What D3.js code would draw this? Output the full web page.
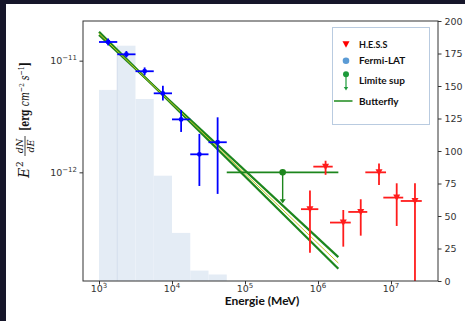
<!DOCTYPE html>
<html><head><meta charset="utf-8">
<script src="https://cdn.jsdelivr.net/npm/d3@7"></script>
<style>html,body{margin:0;padding:0;background:#16162a;}svg{display:block}</style>
</head><body>
<svg id="c" width="465" height="321"></svg>
<script>
// ---------- data ----------
const histEdges = [1000, 1778, 3162, 5623, 10000, 17783, 31623, 56234];
const histCounts = [147, 181, 140, 81, 37, 8, 5];

const fermiE    = [1334, 2371, 4217, 7499, 13335, 23714, 42170];
const fermiElo  = [1000, 1778, 3162, 5623, 10000, 17783, 31623];
const fermiEhi  = [1778, 3162, 5623, 10000, 17783, 31623, 56234];
const fermiF    = [1.47e-11, 1.14e-11, 8.04e-12, 5.1e-12, 2.98e-12, 1.45e-12, 1.86e-12];
const fermiFlo  = [1.37e-11, 1.07e-11, 7.4e-12, 4.4e-12, 2.30e-12, 7.55e-13, 6.41e-13];
const fermiFhi  = [1.58e-11, 1.22e-11, 8.7e-12, 5.96e-12, 3.62e-12, 2.21e-12, 3.11e-12];

const hessE    = [7.76e5, 1.27e6, 2.22e6, 3.85e6, 6.85e6, 1.197e7, 2.13e7];
const hessElo  = [5.85e5, 8.63e5, 1.46e6, 2.60e6, 4.45e6, 7.85e6, 1.36e7];
const hessEhi  = [1.01e6, 1.59e6, 2.81e6, 4.73e6, 8.55e6, 1.47e7, 2.64e7];
const hessF    = [4.68e-13, 1.125e-12, 3.55e-13, 4.42e-13, 1.0e-12, 5.94e-13, 5.54e-13];
const hessFlo  = [1.91e-13, 9.5e-13, 2.16e-13, 2.71e-13, 7.7e-13, 3.31e-13, 1e-14];
const hessFhi  = [6.86e-13, 1.27e-12, 4.6e-13, 5.74e-13, 1.2e-12, 7.98e-13, 7.98e-13];

const ulE = [3.28e5], ulElo = [56234], ulEhi = [1.9e6], ulF = [1.0e-12], ulArrowTo = [5.4e-13];

const bflyE      = [1000, 1.9e6];
const bflyCenter = [1.75e-11, 1.54e-13];
const bflyUpper  = [1.70e-11, 1.74e-13];
const bflyLower  = [1.81e-11, 1.37e-13];

const xMajor = [1e3, 1e4, 1e5, 1e6, 1e7];
const xMajorExp = ["3", "4", "5", "6", "7"];
const yMajor = [1e-11, 1e-12];
const yMajorExp = ["−11", "−12"];
const rightTicks = [0, 25, 50, 75, 100, 125, 150, 175, 200];

const legendLabels = ["H.E.S.S", "Fermi-LAT", "Limite sup", "Butterfly"];

// ---------- layout ----------
const L = 83, R = 438, T = 21, B = 281;
const svg = d3.select("#c");
svg.append("rect").attr("x", 6).attr("y", 4).attr("width", 459).attr("height", 317).attr("fill", "#fff");

const x = d3.scaleLog().domain([603.7, 4.404e7]).range([L, R]);
const y = d3.scaleLog().domain([1.064e-13, 2.266e-11]).range([B, T]);
const yR = d3.scaleLinear().domain([0, 200]).range([B, T]);

svg.append("defs").append("clipPath").attr("id", "clip")
  .append("rect").attr("x", L).attr("y", T).attr("width", R - L).attr("height", B - T);
const g = svg.append("g").attr("clip-path", "url(#clip)");

// histogram
g.selectAll("rect.h").data(histCounts).enter().append("rect")
  .attr("x", (d, i) => x(histEdges[i]))
  .attr("width", (d, i) => x(histEdges[i + 1]) - x(histEdges[i]))
  .attr("y", d => yR(d)).attr("height", d => B - yR(d))
  .attr("fill", "#e4ecf5");
g.append("line").attr("x1", x(histEdges[1])).attr("x2", x(histEdges[1]))
  .attr("y1", yR(histCounts[1])).attr("y2", B).attr("stroke", "#d3deec").attr("stroke-width", 1);

// butterfly
const bl = d3.line().x(d => x(d[0])).y(d => y(d[1]));
[bflyUpper, bflyLower].forEach(arr => {
  g.append("path").attr("d", bl(bflyE.map((e, i) => [e, arr[i]])))
    .attr("stroke", "#1d861d").attr("stroke-width", 2.2).attr("fill", "none");
});
g.append("path").attr("d", bl(bflyE.map((e, i) => [e, bflyCenter[i]])))
  .attr("stroke", "#c9c61e").attr("stroke-width", 1).attr("fill", "none");

// upper limit
ulE.forEach((e, i) => {
  g.append("line").attr("x1", x(ulElo[i])).attr("x2", x(ulEhi[i]))
    .attr("y1", y(ulF[i])).attr("y2", y(ulF[i])).attr("stroke", "#1d861d").attr("stroke-width", 1.6);
  const ya = y(ulArrowTo[i]);
  g.append("line").attr("x1", x(e)).attr("x2", x(e)).attr("y1", y(ulF[i])).attr("y2", ya)
    .attr("stroke", "#1d861d").attr("stroke-width", 1.4);
  g.append("path").attr("d", `M${x(e) - 3},${ya - 3}L${x(e) + 3},${ya - 3}L${x(e)},${ya + 1}Z`).attr("fill", "#1d861d");
  g.append("circle").attr("cx", x(e)).attr("cy", y(ulF[i])).attr("r", 3.3).attr("fill", "#1d861d");
});

// fermi points
fermiE.forEach((e, i) => {
  const c = "#0000ff";
  g.append("line").attr("x1", x(fermiElo[i])).attr("x2", x(fermiEhi[i]))
    .attr("y1", y(fermiF[i])).attr("y2", y(fermiF[i])).attr("stroke", c).attr("stroke-width", 1.8);
  g.append("line").attr("x1", x(e)).attr("x2", x(e))
    .attr("y1", y(fermiFlo[i])).attr("y2", y(fermiFhi[i])).attr("stroke", c).attr("stroke-width", 1.8);
  g.append("circle").attr("cx", x(e)).attr("cy", y(fermiF[i])).attr("r", 2.4).attr("fill", c);
});

// hess points
hessE.forEach((e, i) => {
  const c = "#ff1c1c";
  g.append("line").attr("x1", x(hessElo[i])).attr("x2", x(hessEhi[i]))
    .attr("y1", y(hessF[i])).attr("y2", y(hessF[i])).attr("stroke", c).attr("stroke-width", 1.8);
  g.append("line").attr("x1", x(e)).attr("x2", x(e))
    .attr("y1", y(hessFlo[i])).attr("y2", y(hessFhi[i])).attr("stroke", c).attr("stroke-width", 1.8);
  const cx = x(e), cy = y(hessF[i]);
  g.append("path").attr("d", `M${cx - 3.5},${cy - 3}L${cx + 3.5},${cy - 3}L${cx},${cy + 3.5}Z`).attr("fill", c);
});

// frame
const ax = "#333";
svg.append("rect").attr("x", L).attr("y", T).attr("width", R - L).attr("height", B - T)
  .attr("fill", "none").attr("stroke", ax).attr("stroke-width", 1);

// x axis ticks
const xMinor = [];
[1e2, 1e3, 1e4, 1e5, 1e6, 1e7].forEach(d => { for (let k = 2; k <= 9; k++) { const v = d * k; if (v > x.domain()[0] && v < x.domain()[1]) xMinor.push(v); } });
const xa = svg.append("g").attr("transform", `translate(0,${B})`);
xa.call(d3.axisBottom(x).tickValues(xMinor).tickSize(2).tickFormat(""));
xa.call(d3.axisBottom(x).tickValues(xMajor).tickSize(3.5).tickFormat(""));
xa.select(".domain").remove();
xa.selectAll("line").attr("stroke", ax);
xMajor.forEach((v, i) => {
  const t = svg.append("text").attr("x", x(v)).attr("y", 292).attr("text-anchor", "middle")
    .attr("font-family", "DejaVu Sans").attr("font-size", 9.5).attr("fill", "#333");
  t.append("tspan").text("10");
  t.append("tspan").attr("dy", -4).attr("font-size", 7).text(xMajorExp[i]);
});

// y left ticks
const yMinor = [];
[1e-14, 1e-13, 1e-12, 1e-11].forEach(d => { for (let k = 2; k <= 9; k++) { const v = d * k; if (v > y.domain()[0] && v < y.domain()[1]) yMinor.push(v); } });
const ya = svg.append("g").attr("transform", `translate(${L},0)`);
ya.call(d3.axisLeft(y).tickValues(yMinor).tickSize(2).tickFormat(""));
ya.call(d3.axisLeft(y).tickValues(yMajor).tickSize(3.5).tickFormat(""));
ya.select(".domain").remove();
ya.selectAll("line").attr("stroke", ax);
yMajor.forEach((v, i) => {
  const t = svg.append("text").attr("x", 77).attr("y", y(v) + 3.5).attr("text-anchor", "end")
    .attr("font-family", "DejaVu Sans").attr("font-size", 9.5).attr("fill", "#333");
  t.append("tspan").text("10");
  t.append("tspan").attr("dy", -4).attr("font-size", 7).text(yMajorExp[i]);
});

// right axis
const ra = svg.append("g").attr("transform", `translate(${R},0)`);
ra.call(d3.axisRight(yR).tickValues(rightTicks).tickSize(3.5).tickPadding(3));
ra.select(".domain").remove();
ra.selectAll("line").attr("stroke", ax);
ra.selectAll("text").attr("font-family", "DejaVu Sans").attr("font-size", 9.5).attr("fill", "#333");

// x label
svg.append("text").attr("x", 262).attr("y", 304.5).attr("text-anchor", "middle")
  .attr("font-family", "Lato").attr("font-weight", "bold").attr("font-size", 12).attr("fill", "#111")
  .text("Energie (MeV)");

// y label
const yl = svg.append("g").attr("transform", "translate(29,120) rotate(-90)")
  .attr("font-family", "DejaVu Serif").attr("fill", "#111");
yl.append("text").attr("x", -58).attr("y", 0).attr("font-size", 14).attr("font-style", "italic").text("E");
yl.append("text").attr("x", -47).attr("y", -6).attr("font-size", 9).text("2");
yl.append("text").attr("x", -26).attr("y", -6).attr("font-size", 9.5).attr("font-style", "italic").attr("text-anchor", "middle").text("dN");
yl.append("line").attr("x1", -36).attr("x2", -16).attr("y1", -4).attr("y2", -4).attr("stroke", "#111").attr("stroke-width", 0.8);
yl.append("text").attr("x", -26).attr("y", 4.5).attr("font-size", 9.5).attr("font-style", "italic").attr("text-anchor", "middle").text("dE");
const yt = yl.append("text").attr("x", -11).attr("y", 0).attr("font-size", 12)
  .attr("textLength", 69).attr("lengthAdjust", "spacingAndGlyphs");
yt.append("tspan").attr("font-weight", "bold").text("[erg ");
yt.append("tspan").attr("font-style", "italic").text("cm");
yt.append("tspan").attr("dy", -5).attr("font-size", 8).text("−2");
yt.append("tspan").attr("dy", 5).text(" ");
yt.append("tspan").attr("font-style", "italic").text("s");
yt.append("tspan").attr("dy", -5).attr("font-size", 8).text("−1");
yt.append("tspan").attr("dy", 5).attr("font-weight", "bold").text("]");

// legend
svg.append("rect").attr("x", 332.5).attr("y", 27.5).attr("width", 97).attr("height", 97)
  .attr("fill", "#fff").attr("stroke", "#b9cbe0").attr("stroke-width", 1);
const lx = 346, ly = [44.3, 60.7, 78, 101];
svg.append("path").attr("d", `M${lx - 3.5},${ly[0] - 3}L${lx + 3.5},${ly[0] - 3}L${lx},${ly[0] + 3.5}Z`).attr("fill", "#ff0000");
svg.append("circle").attr("cx", lx).attr("cy", ly[1]).attr("r", 3.3).attr("fill", "#5b9bd5");
svg.append("circle").attr("cx", lx).attr("cy", 74.3).attr("r", 3).attr("fill", "#1d9a3a");
svg.append("line").attr("x1", lx).attr("x2", lx).attr("y1", 74.3).attr("y2", 88).attr("stroke", "#1d9a3a").attr("stroke-width", 1.2);
svg.append("path").attr("d", `M${lx - 2.2},87L${lx + 2.2},87L${lx},90.5Z`).attr("fill", "#1d9a3a");
svg.append("line").attr("x1", 334).attr("x2", 352.5).attr("y1", ly[3]).attr("y2", ly[3]).attr("stroke", "#1d8a1d").attr("stroke-width", 1.5);
legendLabels.forEach((t, i) => {
  svg.append("text").attr("x", 359).attr("y", (i === 2 ? 80.5 : ly[i]) + 3.5)
    .attr("font-family", "Lato").attr("font-weight", "bold").attr("font-size", i === 0 ? 9 : 10).attr("fill", "#111").text(t);
});
</script>
</body></html>
